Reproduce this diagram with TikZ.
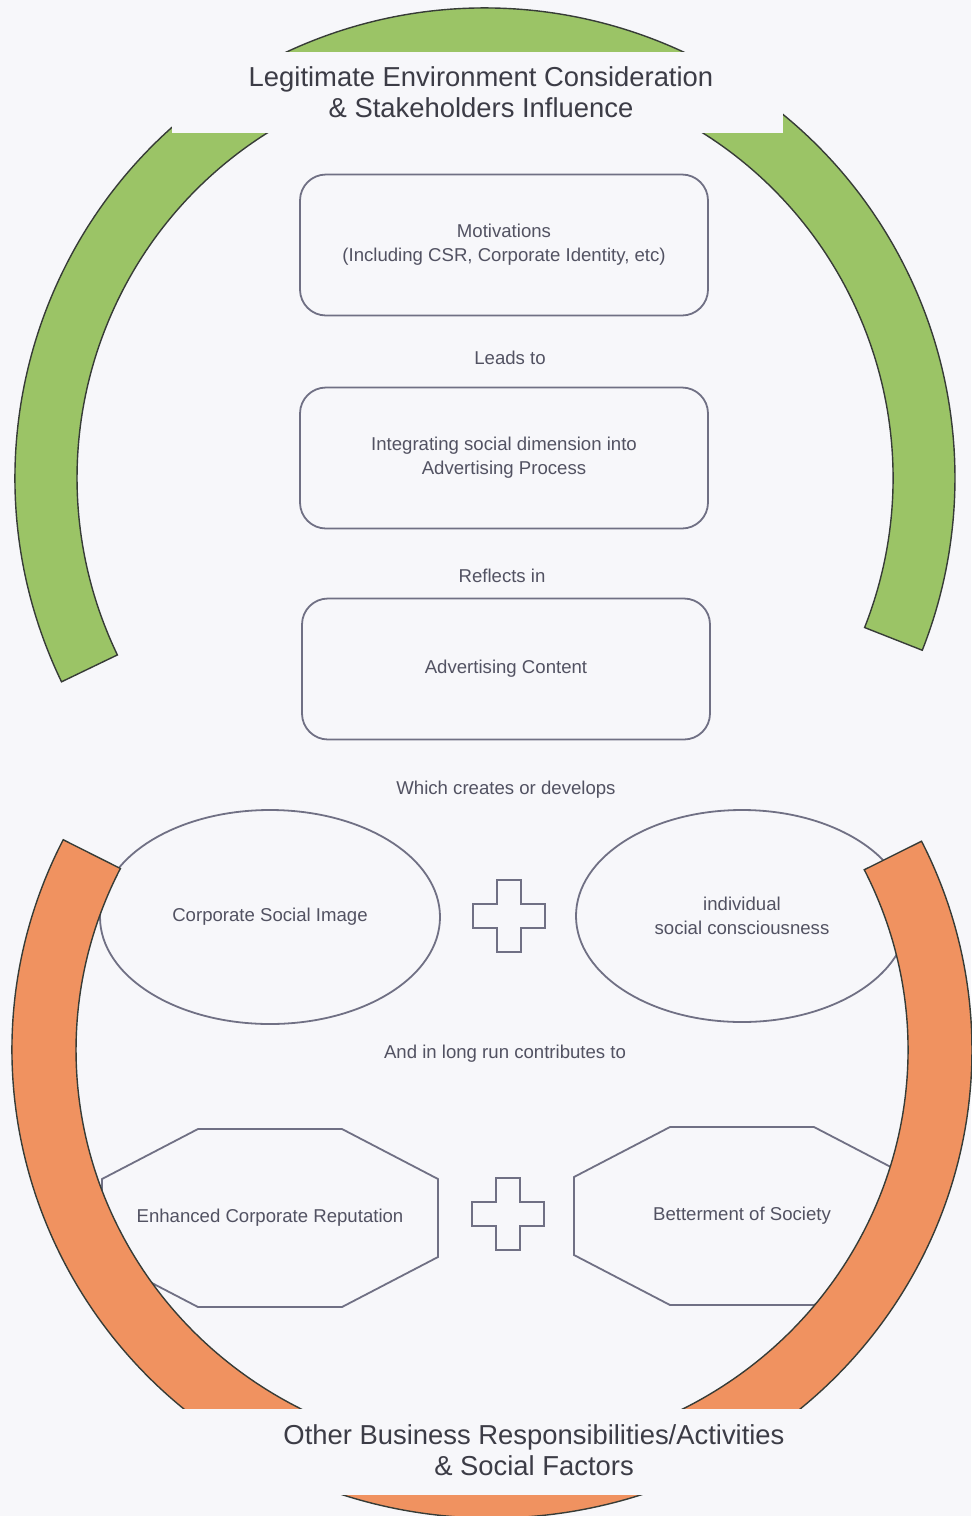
\documentclass[tikz,border=0pt]{standalone}
\usepackage{fontspec}
\setmainfont{Liberation Sans}
\usetikzlibrary{calc,shapes.geometric}

\definecolor{ringgreen}{RGB}{155,196,102}
\definecolor{ringorange}{RGB}{240,146,96}
\definecolor{ringedge}{RGB}{55,60,55}
\definecolor{paper}{RGB}{247,247,250}
\definecolor{inkline}{RGB}{112,112,132}
\definecolor{inktext}{RGB}{82,82,98}
\definecolor{titletext}{RGB}{60,60,70}

\tikzset{
  smalltext/.style={text=inktext, font=\fontsize{9.3}{12}\selectfont, align=center},
  stage/.style={smalltext, draw=inkline, line width=0.9pt, rounded corners=13pt,
    minimum width=204pt, minimum height=70.5pt},
  oval/.style={smalltext, ellipse, draw=inkline, line width=0.9pt, inner sep=0pt},
  shapeline/.style={draw=inkline, line width=0.9pt},
  ringpart/.style={draw=ringedge, line width=0.7pt, line join=miter},
  heading/.style={text=titletext, font=\fontsize{13.7}{15.5}\selectfont, align=center}
}

\begin{document}
\begin{tikzpicture}[x=0.5pt,y=0.5pt]
    \useasboundingbox (0,0) rectangle (971,-1516);
    \fill[paper] (0,0) rectangle (971,-1516);

    % Upper chain of boxes
    \node[stage] (motiv) at (504,-245) {Motivations\\(Including CSR, Corporate Identity, etc)};
    \node[smalltext] (leads) at (510,-358) {Leads to};
    \node[stage] (integ) at (504,-458) {Integrating social dimension into\\Advertising Process};
    \node[smalltext] (refl) at (502,-576) {Reflects in};
    \node[stage] (adv) at (506,-669) {Advertising Content};
    \node[smalltext] (which) at (506,-790) {Which creates or develops};

    % Two ellipses joined by a plus
    \node[oval, minimum width=170pt, minimum height=107pt] (image) at (270,-917) {Corporate Social Image};
    \node[oval, minimum width=166pt, minimum height=106pt] (consc) at (742,-916) {individual\\social consciousness};
    \coordinate (plusA) at (509,-916);
    \draw[shapeline] (plusA) ++(-12,36) -- ++(24,0) -- ++(0,-24) -- ++(24,0) -- ++(0,-24) -- ++(-24,0)
        -- ++(0,-24) -- ++(-24,0) -- ++(0,24) -- ++(-24,0) -- ++(0,24) -- ++(24,0) -- cycle;

    \node[smalltext] (longrun) at (505,-1054) {And in long run contributes to};

    % Two octagons joined by a plus
    \node[smalltext] (reput) at (270,-1218) {Enhanced Corporate Reputation};
    \draw[shapeline] (reput.center) ++(-72,89) -- ++(144,0) -- ++(96,-50) -- ++(0,-78) -- ++(-96,-50)
        -- ++(-144,0) -- ++(-96,50) -- ++(0,78) -- cycle;
    \node[smalltext] (better) at (742,-1216) {Betterment of Society};
    \draw[shapeline] (better.center) ++(-72,89) -- ++(144,0) -- ++(96,-50) -- ++(0,-78) -- ++(-96,-50)
        -- ++(-144,0) -- ++(-96,50) -- ++(0,78) -- cycle;
    \coordinate (plusB) at (508,-1214);
    \draw[shapeline] (plusB) ++(-12,36) -- ++(24,0) -- ++(0,-24) -- ++(24,0) -- ++(0,-24) -- ++(-24,0)
        -- ++(0,-24) -- ++(-24,0) -- ++(0,24) -- ++(-24,0) -- ++(0,24) -- ++(24,0) -- cycle;

    % Green ring (top)
    \coordinate (gc) at (485,-478);
    \draw[ringpart, fill=ringgreen] ($(gc)+(205.7:470)$) arc[start angle=205.7, end angle=-21.5, radius=470]
        -- ($(gc)+(-21.5:408)$) arc[start angle=-21.5, end angle=205.7, radius=408] -- cycle;

    % Orange ring (bottom)
    \coordinate (oc) at (492,-1050);
    \draw[ringpart, fill=ringorange] ($(oc)+(153.3:480 and 468)$)
        arc[start angle=153.3, end angle=386.5, x radius=480, y radius=468]
        -- ($(oc)+(386.5:416 and 404)$)
        arc[start angle=386.5, end angle=153.3, x radius=416, y radius=404] -- cycle;

    % Title boxes cut the rings
    \fill[paper] (172,-52) rectangle (783,-133);
    \fill[paper] (150,-1409) rectangle (840,-1495);
    \node[heading] (legit) at (481,-92) {Legitimate Environment Consideration\\\& Stakeholders Influence};
    \node[heading] (other) at (534,-1450) {Other Business Responsibilities/Activities\\\& Social Factors};
\end{tikzpicture}
\end{document}
